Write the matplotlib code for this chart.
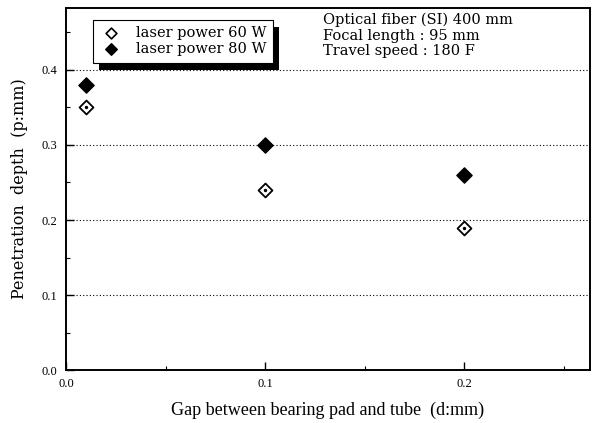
import numpy as np
import matplotlib
matplotlib.use("Agg")
from matplotlib import pyplot as plt
from matplotlib.ticker import MultipleLocator
from matplotlib.patches import Rectangle

# -----------------------------
# Data
# -----------------------------
gap = [0.01, 0.1, 0.2]
depth_60w = [0.35, 0.24, 0.19]
depth_80w = [0.38, 0.30, 0.26]
labels = ["laser power 60 W", "laser power 80 W"]
notes = ["Optical fiber (SI) 400 mm", "Focal length : 95 mm", "Travel speed : 180 F"]

plt.rcParams['font.family'] = ['Liberation Serif', 'DejaVu Serif']

fig = plt.figure(figsize=(5.92, 4.23), dpi=100)
ax = fig.add_axes([0.1115, 0.125, 0.885, 0.857])

# dotted horizontal grid
for yv in [0.1, 0.2, 0.3, 0.4]:
    ax.axhline(yv, color="black", lw=0.8, ls=(0, (1, 2)), zorder=1)

ax.scatter(gap, depth_80w, marker="D", s=60, facecolor="black",
           edgecolor="black", zorder=3)
ax.scatter(gap, depth_60w, marker="D", s=50, facecolor="white",
           edgecolor="black", linewidth=1.3, zorder=3)
ax.scatter(gap, depth_60w, marker="o", s=2, color="black", zorder=4)

ax.set_xlim(0, 0.263)
ax.set_ylim(0, 0.483)
ax.xaxis.set_major_locator(MultipleLocator(0.1))
ax.xaxis.set_minor_locator(MultipleLocator(0.05))
ax.yaxis.set_major_locator(MultipleLocator(0.1))
ax.yaxis.set_minor_locator(MultipleLocator(0.05))
ax.xaxis.set_major_formatter(plt.FuncFormatter(lambda v, p: f"{v:.1f}"))
ax.yaxis.set_major_formatter(plt.FuncFormatter(lambda v, p: f"{v:.1f}"))
ax.tick_params(which="major", direction="in", length=6, width=1, labelsize=9, pad=6)
ax.tick_params(which="minor", direction="in", length=3, width=0.8)
for sp in ax.spines.values():
    sp.set_linewidth(1.4)

ax.set_xlabel("Gap between bearing pad and tube  (d:mm)", fontsize=13, labelpad=8)
ax.set_ylabel("Penetration  depth  (p:mm)", fontsize=11.5, labelpad=10,
              family="DejaVu Serif")

# legend box with a heavy drop shadow
h_open = ax.scatter([], [], marker="D", s=30, facecolor="white", edgecolor="black", linewidth=1.2)
h_fill = ax.scatter([], [], marker="D", s=35, facecolor="black", edgecolor="black")
leg = ax.legend([h_open, h_fill], labels, loc="upper left",
                bbox_to_anchor=(0.0515, 0.967), borderaxespad=0,
                prop={"family": "DejaVu Serif", "size": 10.5},
                frameon=True, fancybox=False,
                borderpad=0.45, handletextpad=0.9, labelspacing=0.15,
                handlelength=1.6)
leg.get_frame().set_edgecolor("black")
leg.get_frame().set_linewidth(0.8)
leg.get_frame().set_alpha(1)
leg.set_zorder(6)

fig.canvas.draw()
bb = leg.get_frame().get_window_extent().transformed(ax.transAxes.inverted())
ax.add_patch(Rectangle((bb.x0 + 0.012, bb.y0 - 0.020), bb.width, bb.height,
                       transform=ax.transAxes, facecolor="black",
                       edgecolor="none", zorder=5))

for i, txt in enumerate(notes):
    ax.text(0.491, 0.985 - i * 0.043, txt, transform=ax.transAxes,
            fontsize=10.5, family="DejaVu Serif", va="top", ha="left",
            bbox=dict(facecolor="white", edgecolor="none", pad=0.5) if i == 2 else None)

fig.savefig("out.png", dpi=100)
